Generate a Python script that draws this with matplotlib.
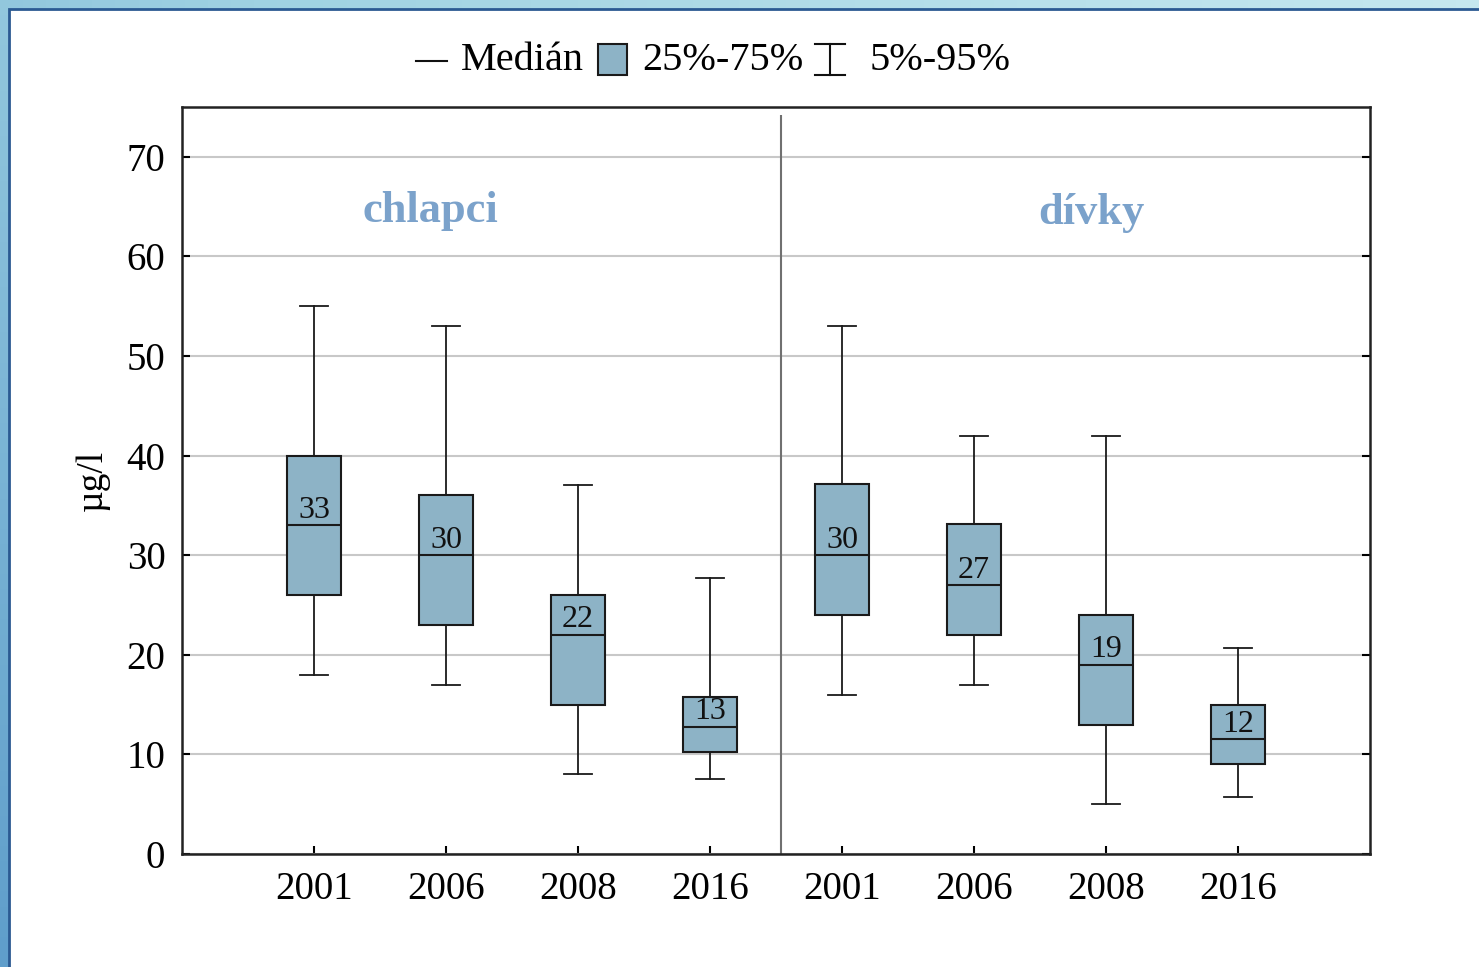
import numpy as np
import matplotlib
matplotlib.use("Agg")
import matplotlib.pyplot as plt
from matplotlib.patches import Rectangle
from matplotlib.lines import Line2D

plt.rcParams['font.family'] = ['Liberation Serif', 'DejaVu Serif']

# percentiles per year, boys then girls
years = ['2001', '2006', '2008', '2016', '2001', '2006', '2008', '2016']
p05 = [18, 17, 8, 7.5, 16, 17, 5, 5.7]
p25 = [26, 23, 15, 10.2, 24, 22, 13, 9]
p50 = [33, 30, 22, 12.8, 30, 27, 19, 11.5]
p75 = [40, 36, 26, 15.8, 37.1, 33.1, 24, 15]
p95 = [55, 53, 37, 27.7, 53, 42, 42, 20.7]

groups = ['chlapci', 'dívky']

W, H = 1479, 967
fig = plt.figure(figsize=(W / 100, H / 100), dpi=100)

# blue backdrop with white sheet on top
bg = fig.add_axes([0, 0, 1, 1], zorder=-10)
gx, gy = np.meshgrid(np.linspace(0, 1, 64), np.linspace(0, 1, 64))
bg.imshow(0.6 * gx + 0.4 * (1 - gy), cmap=matplotlib.colors.LinearSegmentedColormap.from_list(
    'bgc', ['#5f9ecb', '#9fd2e2', '#c5e8ef']), aspect='auto', extent=[0, 1, 0, 1])
bg.add_patch(Rectangle((9 / W, -0.01), 1.0, 1 - 9 / H + 0.01, facecolor='white',
                       edgecolor='#2b5a92', lw=2, transform=bg.transAxes))
bg.set_xlim(0, 1)
bg.set_ylim(0, 1)
bg.axis('off')

ax = fig.add_axes([182 / W, (H - 854) / H, (1370 - 182) / W, (854 - 107) / H])
ax.set_facecolor('white')

pos = np.arange(1, len(years) + 1)
stats = [dict(whislo=a, q1=b, med=c, q3=d, whishi=e, fliers=[])
         for a, b, c, d, e in zip(p05, p25, p50, p75, p95)]
ax.bxp(stats, positions=pos, widths=0.41, capwidths=0.21, patch_artist=True,
       showfliers=False,
       boxprops=dict(facecolor='#8db3c6', edgecolor='#1a1a1a', lw=1.5),
       medianprops=dict(color='#1a1a1a', lw=1.5),
       whiskerprops=dict(color='#1a1a1a', lw=1.3),
       capprops=dict(color='#1a1a1a', lw=1.3), zorder=3)

# median value printed just above the median line
for x, m in zip(pos, p50):
    ax.text(x, m + 0.05, str(int(round(m))), ha='center', va='bottom',
            fontsize=23, color='#111111', zorder=4)

# divider between boys and girls
ax.vlines(4.54, 0, 74.2, color='#707070', lw=1.5, zorder=2)

ax.text(1.88, 64.6, groups[0], ha='center', va='center', fontsize=32,
        fontweight='bold', color='#7ba2cb')
ax.text(6.89, 64.4, groups[1], ha='center', va='center', fontsize=32,
        fontweight='bold', color='#7ba2cb')

ax.set_xlim(0, 9)
ax.set_ylim(0, 75)
ax.set_yticks(np.arange(0, 71, 10))
ax.set_xticks(pos)
ax.set_xticklabels(years)
ax.grid(axis='y', color='#c8c8c8', lw=1.5)
ax.set_axisbelow(True)
ax.tick_params(axis='y', direction='in', left=True, right=True, length=6,
               width=1.5, labelsize=28, pad=12)
ax.tick_params(axis='x', direction='in', bottom=True, top=False, length=6,
               width=1.5, labelsize=28, pad=12)
for s in ax.spines.values():
    s.set_linewidth(1.8)
    s.set_color('#222222')

ax.set_ylabel('µg/l', fontsize=27)
ax.yaxis.set_label_coords((110 - 182) / (1370 - 182), 0.5)


# legend row drawn in figure pixels
def fx(px):
    return px / W


def fy(py):
    return 1 - py / H


ly = 61
fig.add_artist(Line2D([fx(416), fx(447)], [fy(ly), fy(ly)], color='#111111', lw=1.5))
fig.text(fx(461), fy(ly), 'Medián', fontsize=29, va='center', ha='left')
fig.add_artist(Rectangle((fx(598), fy(75)), fx(627) - fx(598), fy(44) - fy(75),
                         facecolor='#8db3c6', edgecolor='#1a1a1a', lw=1.5,
                         transform=fig.transFigure))
fig.text(fx(642), fy(ly), '25%-75%', fontsize=29, va='center', ha='left')
for a, b, c, d in [(830, 44, 830, 75), (815, 44, 845, 44), (815, 75, 845, 75)]:
    fig.add_artist(Line2D([fx(a), fx(c)], [fy(b), fy(d)], color='#111111', lw=1.5))
fig.text(fx(870), fy(ly), '5%-95%', fontsize=29, va='center', ha='left')

fig.savefig('out.png', dpi=100)
